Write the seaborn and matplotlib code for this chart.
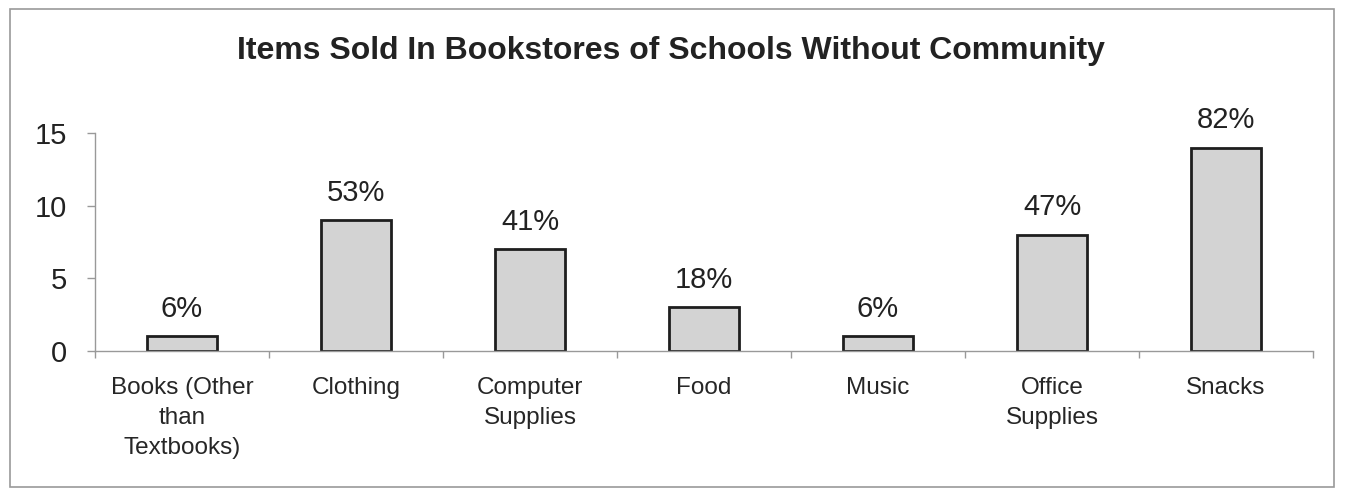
import matplotlib
matplotlib.use("Agg")
import matplotlib.pyplot as plt
import seaborn as sns
import pandas as pd
import numpy as np
from matplotlib.patches import Rectangle

# Items sold in bookstores (number of schools) and share of schools
categories = ["Books (Other\nthan\nTextbooks)", "Clothing", "Computer\nSupplies",
              "Food", "Music", "Office\nSupplies", "Snacks"]
counts = [1, 9, 7, 3, 1, 8, 14]
percent_labels = ["6%", "53%", "41%", "18%", "6%", "47%", "82%"]
y_ticks = [0, 5, 10, 15]

sns.set_theme(style="white")
plt.rcParams["font.family"] = ["Liberation Sans", "DejaVu Sans"]

df = pd.DataFrame({"item": categories, "count": counts})

fig = plt.figure(figsize=(13.46, 4.90), dpi=100)
ax = fig.add_axes([95 / 1346, 1 - 351 / 490, (1313 - 95) / 1346, (351 - 133) / 490])

sns.barplot(data=df, x="item", y="count", ax=ax, color="#d3d3d3",
            width=0.40, edgecolor="#1e1e1e", linewidth=2.0, saturation=1)

ax.set_xlim(-0.5, len(categories) - 0.5)
ax.set_ylim(0, 15)
ax.set_yticks(y_ticks)
ax.set_xlabel("")
ax.set_ylabel("")

# Value labels above each bar
for i, (c, lab) in enumerate(zip(counts, percent_labels)):
    ax.annotate(lab, (i, c), xytext=(0, 14), textcoords="offset points",
                ha="center", va="baseline", fontsize=21, color="#222222",
                annotation_clip=False)

# Axes styling
for side in ["top", "right"]:
    ax.spines[side].set_visible(False)
for side in ["left", "bottom"]:
    ax.spines[side].set_color("#999999")
    ax.spines[side].set_linewidth(1.0)

ax.tick_params(axis="y", which="major", length=6, width=1, color="#999999",
               labelsize=21, labelcolor="#222222", pad=14, left=True)
ax.tick_params(axis="x", which="major", length=0, labelsize=17.5,
               labelcolor="#262626", pad=19)
ax.set_xticks(np.arange(len(categories) + 1) - 0.5, minor=True)
ax.tick_params(axis="x", which="minor", length=5, width=1, color="#999999",
               bottom=True, direction="out")
for t in ax.get_xticklabels():
    t.set_verticalalignment("top")
    t.set_linespacing(1.45)

fig.text(671 / 1346, 1 - 51 / 490, "Items Sold In Bookstores of Schools Without Community",
         ha="center", va="center", fontsize=23, fontweight="bold", color="#222222")

# Frame around the whole chart
fig.patches.append(Rectangle((10 / 1346, 1 - 487 / 490), (1334 - 10) / 1346, (487 - 9) / 490,
                             transform=fig.transFigure, fill=False,
                             edgecolor="#9a9a9a", linewidth=1.2))

fig.savefig("out.png", dpi=100, facecolor="white")
